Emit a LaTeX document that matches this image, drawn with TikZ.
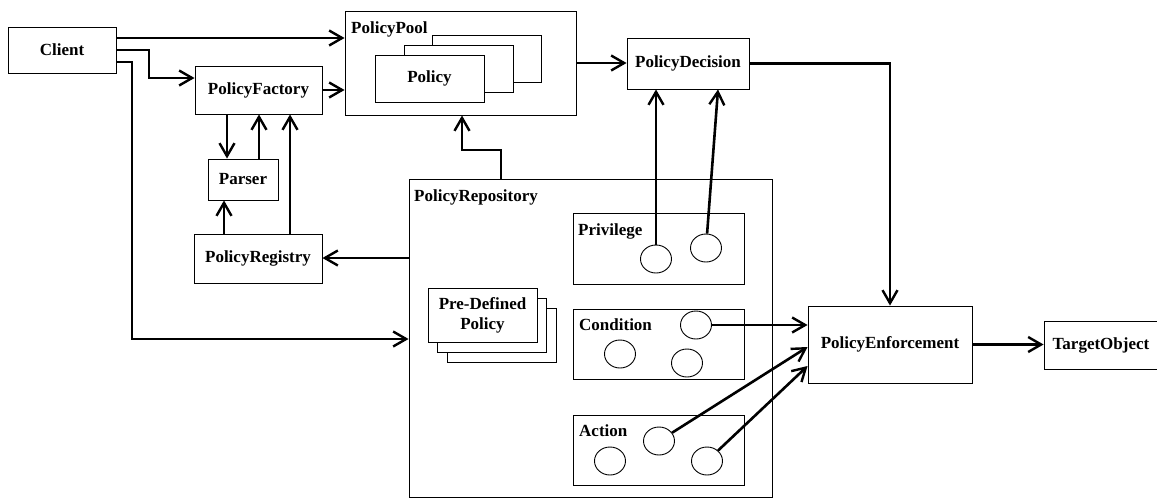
\documentclass[tikz,border=0pt]{standalone}
\usepackage{fontspec}
\setmainfont{Liberation Serif}
\usetikzlibrary{arrows.meta,shapes.geometric}
\newcommand\lbl{\fontsize{17}{20}\selectfont\bfseries}
\begin{document}
\begin{tikzpicture}[x=1pt,y=-1pt,
  box/.style={draw,line width=0.9pt,fill=white,inner sep=0pt,font=\lbl,align=center},
  tag/.style={anchor=west,inner sep=0pt,font=\lbl,text height=12pt,text depth=4pt},
  port/.style={draw,ellipse,line width=0.9pt,minimum width=31pt,minimum height=28pt,inner sep=0pt},
  link/.style={line width=2.6pt,-{Straight Barb[length=13pt,width=15pt,line width=2.4pt]}},
]
\useasboundingbox (0,0) rectangle (1157,498);

% left-hand components
\node[box,minimum width=108pt,minimum height=46pt] (client) at (62,50) {Client};
\node[box,minimum width=127pt,minimum height=48pt] (factory) at (258.5,90) {PolicyFactory};
\node[box,minimum width=70pt,minimum height=41pt] (parser) at (243,179.5) {Parser};
\node[box,minimum width=128pt,minimum height=49pt] (registry) at (258,258.5) {PolicyRegistry};

% policy pool with its stack of policies
\node[box,minimum width=231pt,minimum height=104pt] (pool) at (460.5,63) {};
\node[tag] (poollbl) at (351,29) {PolicyPool};
\node[box,minimum width=109pt,minimum height=47pt] (pol3) at (486.5,58.5) {};
\node[box,minimum width=109pt,minimum height=47pt] (pol2) at (458.5,68.5) {};
\node[box,minimum width=109pt,minimum height=47pt] (pol1) at (429.5,78.5) {Policy};

\node[box,minimum width=122pt,minimum height=51pt] (decision) at (688,63.5) {PolicyDecision};

% policy repository
\node[box,minimum width=363pt,minimum height=318pt] (repo) at (590.5,338) {};
\node[tag] (repolbl) at (414,197) {PolicyRepository};

\node[box,minimum width=109pt,minimum height=54pt] (pre3) at (501.5,335) {};
\node[box,minimum width=109pt,minimum height=54pt] (pre2) at (492,325) {};
\node[box,minimum width=109pt,minimum height=54pt] (pre1) at (482.5,315) {Pre-Defined\\Policy};

\node[box,minimum width=171pt,minimum height=71pt] (priv) at (658.5,248.5) {};
\node[tag] (privlbl) at (578,231) {Privilege};
\node[port] (p1) at (656,259) {};
\node[port] (p2) at (706,248) {};

\node[box,minimum width=171pt,minimum height=70pt] (cond) at (658.5,344) {};
\node[tag] (condlbl) at (579,326) {Condition};
\node[port] (c1) at (696,325) {};
\node[port] (c2) at (620,354) {};
\node[port] (c3) at (687,363) {};

\node[box,minimum width=171pt,minimum height=70pt] (act) at (658.5,450) {};
\node[tag] (actlbl) at (579,432) {Action};
\node[port] (a1) at (659,441) {};
\node[port] (a2) at (610,461) {};
\node[port] (a3) at (707,461) {};

% right-hand components
\node[box,minimum width=164pt,minimum height=77pt] (enf) at (890,344.5) {PolicyEnforcement};
\node[box,minimum width=114pt,minimum height=48pt] (target) at (1101,345) {TargetObject};

% connectors
\draw[link] (client.east|-0,38) -- (pool.west|-0,38);
\draw[link] (client.east) -- (149,50) |- (factory.west|-0,78);
\draw[link] (client.east|-0,62) -- (132,62) |- (repo.west|-0,339);
\draw[link] (factory.east) -- (pool.west|-factory.east);
\draw[link] (factory.south-|227,0) -- (parser.north-|227,0);
\draw[link] (parser.north-|259,0) -- (factory.south-|259,0);
\draw[link] (registry.north-|290,0) -- (factory.south-|290,0);
\draw[link] (registry.north-|224,0) -- (parser.south-|224,0);
\draw[link] (repo.west|-0,258) -- (registry.east|-0,258);
\draw[link] (repo.north-|501,0) -- (501,150) -| (pool.south-|462,0);
\draw[link] (pool.east) -- (decision.west|-pool.east);
\draw[link] (decision.east) -| (enf.north);
\draw[link] (p1) -- (p1|-decision.south);
\draw[link] (p2) -- (decision.south-|718,0);
\draw[link] (c1) -- (enf.west|-c1);
\draw[link] (a1) -- (enf.west|-0,347);
\draw[link] (a3) -- (enf.west|-0,366);
\draw[link] (enf.east) -- (target.west|-enf.east);
\end{tikzpicture}
\end{document}
